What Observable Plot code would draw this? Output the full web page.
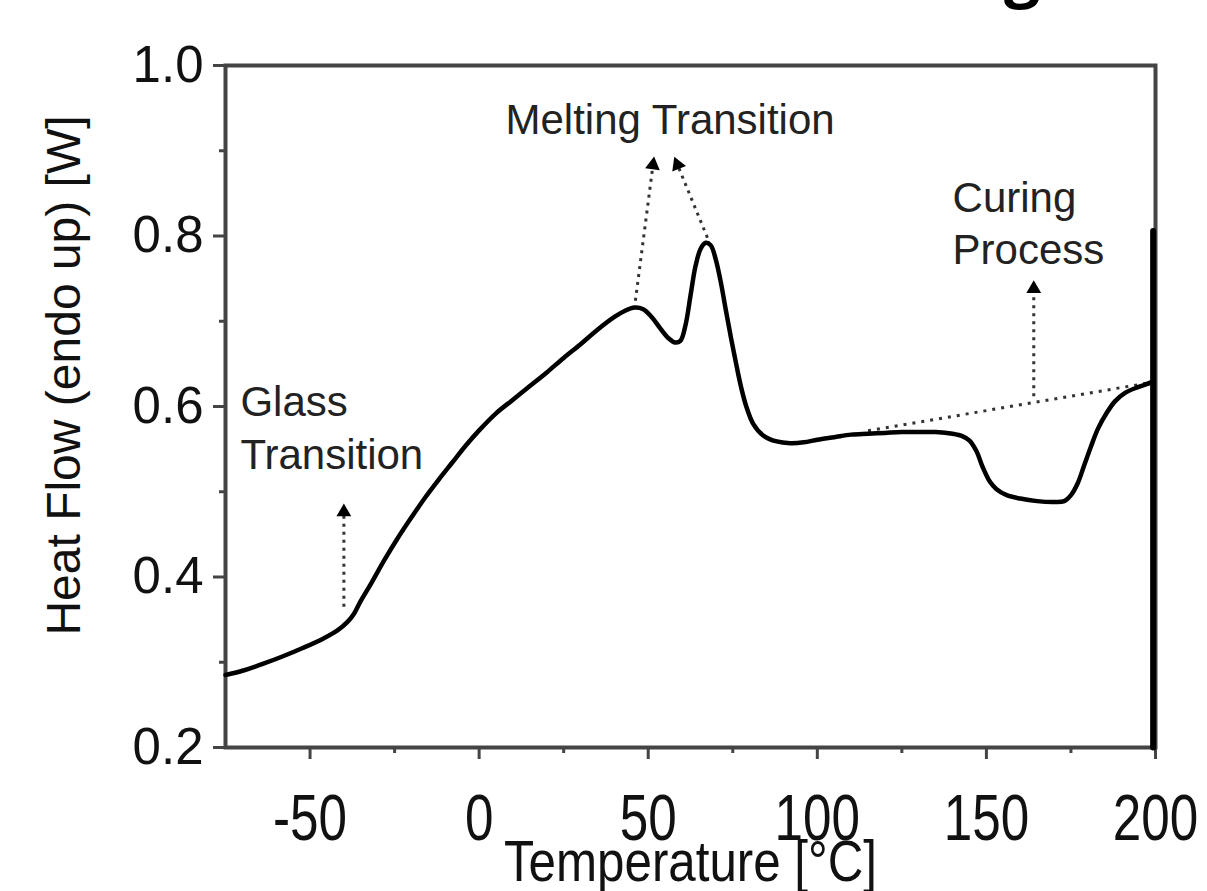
<!DOCTYPE html>
<html><head><meta charset="utf-8">
<script src="https://cdn.jsdelivr.net/npm/d3@7"></script>
<script src="https://cdn.jsdelivr.net/npm/@observablehq/plot@0.6"></script>
<style>
body{margin:0;background:#fff;}
#wrap{position:relative;width:1207px;height:891px;overflow:hidden;}
#frag{position:absolute;left:1004px;top:-62px;font:700 64px/64px "Open Sans",sans-serif;color:#000;}
</style></head><body>
<div id="wrap"><div id="chart"></div><div id="frag">g</div></div>
<script>
// DSC curve (temperature in °C, heat flow in W)
const temperature = [-75,-70,-64,-58,-52,-46,-42,-39,-37,-35,-32,-28,-24,-20,-16,-12,-8,-4,0,5,10,15,20,25,30,35,40,43,46,48.5,51,53.5,56,58,59.5,61,62.5,64,65.5,67,68.5,70,71.5,73,74.5,76,77.5,79,81,84,88,92,96,100,105,110,115,120,125,130,135,140,143,145,147,149,151,153,156,160,165,170,173,175,177,179,181,183,185.5,188,191,195,198.5,199.3];
const heatFlow = [0.285,0.290,0.298,0.307,0.317,0.328,0.337,0.347,0.357,0.372,0.392,0.420,0.446,0.470,0.493,0.514,0.534,0.554,0.572,0.592,0.608,0.624,0.640,0.657,0.673,0.690,0.705,0.712,0.716,0.714,0.705,0.692,0.680,0.675,0.677,0.695,0.730,0.765,0.785,0.792,0.789,0.772,0.745,0.712,0.680,0.650,0.622,0.600,0.580,0.566,0.559,0.557,0.558,0.561,0.564,0.567,0.568,0.569,0.570,0.570,0.570,0.568,0.565,0.560,0.548,0.528,0.512,0.503,0.496,0.492,0.489,0.488,0.489,0.496,0.510,0.532,0.554,0.574,0.592,0.606,0.616,0.623,0.628,0.630];
// vertical spike at the end of the run
const spikeT = [199.3, 199.3];
const spikeV = [0.806, 0.2];

const xTicks = [-50, 0, 50, 100, 150, 200];
const xMinorTicks = [-25, 25, 75, 125, 175];
const yTicks = [0.2, 0.4, 0.6, 0.8, 1.0];
const yMinorTicks = [0.3, 0.5, 0.7, 0.9];
const xTitle = "Temperature [°C]";
const yTitle = "Heat Flow (endo up) [W]";

// annotation labels
const noteText = ["Glass", "Transition", "Melting Transition", "Curing", "Process"];
const noteT = [-70.6, -70.6, 7.8, 140, 140];
const noteV = [0.589, 0.527, 0.920, 0.8276, 0.7677];

// dotted arrows (start -> tip)
const arrowT1 = [-40, 46.2, 67.5, 164];
const arrowV1 = [0.365, 0.724, 0.798, 0.612];
const arrowT2 = [-40, 51.6, 58.1, 164];
const arrowV2 = [0.482, 0.889, 0.889, 0.744];
// dotted curing baseline
const baseT = [115, 198];
const baseV = [0.5715, 0.6277];

const W = 1207, H = 891, mL = 225, mR = 52, mT = 65, mB = 144;
const xs = Plot.scale({x: {domain: [-75, 200], range: [mL, W - mR]}});
const ys = Plot.scale({y: {domain: [0.2, 1.0], range: [H - mB, mT]}});

const curve = temperature.map((t, i) => ({t, v: heatFlow[i]}));
const spike = spikeT.map((t, i) => ({t, v: spikeV[i]}));
const notes = noteText.map((s, i) => ({s, t: noteT[i], v: noteV[i]}));
const arrows = arrowT1.map((t, i) => ({t1: t, v1: arrowV1[i], t2: arrowT2[i], v2: arrowV2[i]}));
const heads = arrows.map(a => {
  const x1 = xs.apply(a.t1), y1 = ys.apply(a.v1), x2 = xs.apply(a.t2), y2 = ys.apply(a.v2);
  const len = Math.hypot(x2 - x1, y2 - y1);
  const ux = (x2 - x1) / len, uy = (y2 - y1) / len;
  const back = 5;
  return {t: xs.invert(x2 - ux * back), v: ys.invert(y2 - uy * back),
          angle: Math.atan2(ux, -uy) * 180 / Math.PI};
});
const baseLine = [{t1: baseT[0], v1: baseV[0], t2: baseT[1], v2: baseV[1]}];

const chart = Plot.plot({
  width: W, height: H,
  marginLeft: mL, marginRight: mR, marginTop: mT, marginBottom: mB,
  x: {domain: [-75, 200]},
  y: {domain: [0.2, 1.0]},
  style: {fontFamily: "'Liberation Sans', Arial, sans-serif", color: "#111", background: "#fff", overflow: "visible"},
  marks: [
    Plot.axisX(xMinorTicks, {tickSize: 6, text: null, stroke: "#444", strokeWidth: 3, label: null}),
    Plot.axisX(xTicks, {tickSize: 12, tickPadding: 35, fontSize: 64, stroke: "#444", strokeWidth: 3, tickFormat: d => String(d), label: null}),
    Plot.axisY(yMinorTicks, {tickSize: 6, text: null, stroke: "#444", strokeWidth: 3, label: null}),
    Plot.axisY(yTicks, {tickSize: 12, tickPadding: 10, fontSize: 51, stroke: "#444", strokeWidth: 3, tickFormat: d => d.toFixed(1), label: null}),
    Plot.text([xTitle], {frameAnchor: "bottom", lineAnchor: "bottom", textAnchor: "middle", dy: 133, fontSize: 58, fill: "#111"}),
    Plot.text([yTitle], {frameAnchor: "left", rotate: -90, textAnchor: "middle", lineAnchor: "middle", dx: -161, dy: -31, fontSize: 48, fill: "#111"}),
    Plot.frame({stroke: "#444", strokeWidth: 4}),
    Plot.link(baseLine, {x1: "t1", y1: "v1", x2: "t2", y2: "v2", stroke: "#333", strokeWidth: 3, strokeDasharray: "3,6"}),
    Plot.link(arrows, {x1: "t1", y1: "v1", x2: "t2", y2: "v2", stroke: "#333", strokeWidth: 3, strokeDasharray: "3,5"}),
    Plot.dot(heads, {x: "t", y: "v", rotate: "angle", symbol: "triangle", r: 5.5, fill: "#000", stroke: null}),
    Plot.line(curve, {x: "t", y: "v", stroke: "#000", strokeWidth: 4.5, curve: "catmull-rom"}),
    Plot.line(spike, {x: "t", y: "v", stroke: "#000", strokeWidth: 6}),
    Plot.text(notes, {x: "t", y: "v", text: "s", textAnchor: "start", lineAnchor: "bottom", fontSize: 42, fill: "#222"})
  ]
});
// condense the x-axis texts horizontally, as in the reference
chart.querySelectorAll('g[aria-label="x-axis tick label"] text').forEach(t => {
  t.setAttribute("transform", (t.getAttribute("transform") || "") + " scale(0.8,1)");
});
chart.querySelectorAll("text").forEach(t => {
  if (t.textContent === xTitle) t.setAttribute("transform", (t.getAttribute("transform") || "") + " scale(0.85,1)");
});
document.getElementById("chart").appendChild(chart);
</script>
</body></html>
